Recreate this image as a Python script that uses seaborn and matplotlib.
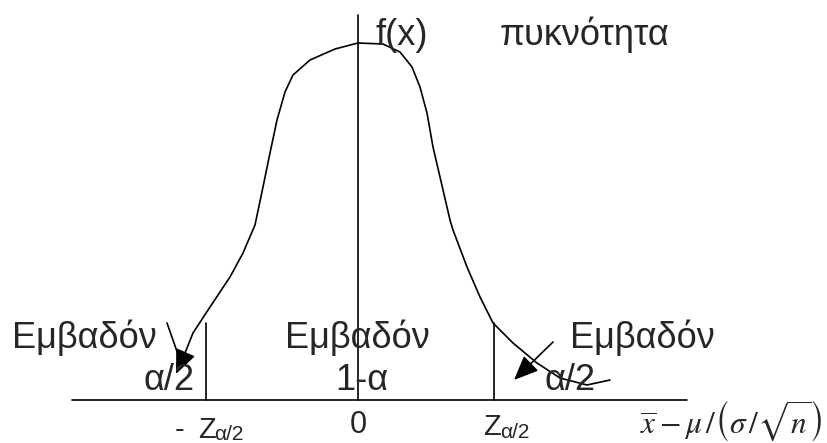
import matplotlib
matplotlib.use("Agg")
import matplotlib.pyplot as plt
import seaborn as sns
import pandas as pd

# Hand-drawn density curve: horizontal position relative to the f(x) axis,
# height above the baseline
curve_x = [-175, -165, -148, -128, -115, -103, -95, -88, -81, -73, -65, -48, -23,
           0, 25, 42, 54, 62, 69, 75, 82, 92, 95, 109, 122, 135, 155, 179, 202,
           229, 252]
curve_y = [42, 67, 93, 123, 147, 175, 213, 247, 280, 308, 325, 340, 351,
           357, 356, 348, 333, 313, 287, 253, 223, 180, 170, 133, 103, 77, 57,
           37, 22, 15, 20]
curve_tip = (-182, 26)

# Axes and critical values
baseline_x = [-286, 329]
fx_axis_y = [0, 385]
crit_x = [-152, 136]
crit_top = 77

# Pointers from the labels to the tails
left_pointer = [(-191, 77), (-178, 40)]
right_pointer = [(195, 58), (156, 20)]

area_label = "Εμβαδόν"
tail_label = "α/2"
centre_label = "1-α"
axis_label = "f(x)"
density_label = "πυκνότητα"
zero_label = "0"
z_label = "Z"
z_sub = "α/2"
stat_label = r"$\overline{x}-\mu\,/\left(\sigma\,/\sqrt{n}\right)$"

sns.set_style("white")
plt.rcParams["font.family"] = ["Liberation Sans", "DejaVu Sans"]

fig = plt.figure(figsize=(8.27, 4.43), dpi=100)
ax = fig.add_axes([0, 0, 1, 1])
ax.set_xlim(-358, 469)
ax.set_ylim(-43, 400)
ax.axis("off")

lw = 1.2
df = pd.DataFrame({"x": curve_x, "y": curve_y})
sns.lineplot(data=df, x="x", y="y", sort=False, estimator=None,
             color="black", linewidth=lw, ax=ax)

arrow_style = "-|>,head_length=0.75,head_width=0.32"
ax.annotate("", xy=curve_tip, xytext=(curve_x[0], curve_y[0]),
            arrowprops=dict(arrowstyle=arrow_style, mutation_scale=20, lw=lw,
                            color="black", shrinkA=0, shrinkB=0))

ax.plot(baseline_x, [0, 0], color="black", lw=lw)
ax.plot([0, 0], fx_axis_y, color="black", lw=lw)
for cx in crit_x:
    ax.plot([cx, cx], [0, crit_top], color="black", lw=lw)

ax.plot([p[0] for p in left_pointer], [p[1] for p in left_pointer],
        color="black", lw=lw)
ax.annotate("", xy=right_pointer[1], xytext=right_pointer[0],
            arrowprops=dict(arrowstyle=arrow_style, mutation_scale=20, lw=lw,
                            color="black", shrinkA=0, shrinkB=0))

big = 26
ax.text(17, 355, axis_label, fontsize=big, ha="left", va="baseline")
ax.text(142, 355, density_label, fontsize=big, ha="left", va="baseline")

ax.text(-346, 52, area_label, fontsize=big, ha="left", va="baseline")
ax.text(-163, 10, tail_label, fontsize=big, ha="right", va="baseline")
ax.text(-73, 52, area_label, fontsize=big, ha="left", va="baseline")
ax.text(-23, 10, centre_label, fontsize=big, ha="left", va="baseline")
ax.text(212, 52, area_label, fontsize=big, ha="left", va="baseline")
ax.text(187, 10, tail_label, fontsize=big, ha="left", va="baseline")

ax.text(0, -33, zero_label, fontsize=22, ha="center", va="baseline")
ax.text(-183, -38, "-", fontsize=21, ha="left", va="baseline")
ax.text(-160, -38, z_label, fontsize=21, ha="left", va="baseline")
ax.text(-144, -40, z_sub, fontsize=15, ha="left", va="baseline")
ax.text(125, -35, z_label, fontsize=21, ha="left", va="baseline")
ax.text(142, -38, z_sub, fontsize=15, ha="left", va="baseline")

ax.text(282, -33, stat_label, fontsize=22.5, ha="left", va="baseline",
        math_fontfamily="stix")

fig.savefig("out.png", dpi=100)
